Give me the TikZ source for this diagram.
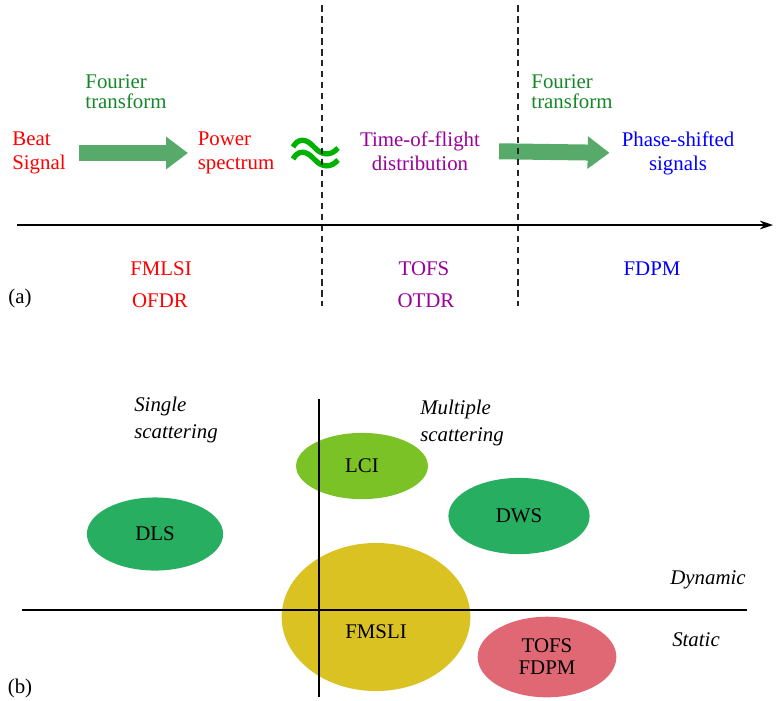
\documentclass[tikz,border=0pt]{standalone}
\usepackage{fontspec}
\setmainfont{Liberation Serif}
\usetikzlibrary{arrows.meta,shapes.geometric}

\definecolor{fourgreen}{RGB}{22,135,40}
\definecolor{fatgreen}{RGB}{88,170,106}
\definecolor{wavegreen}{RGB}{0,178,0}
\definecolor{tofpurple}{RGB}{155,0,155}
\definecolor{lcigreen}{RGB}{122,194,37}
\definecolor{dlsgreen}{RGB}{39,174,96}
\definecolor{fmsliyellow}{RGB}{218,194,35}
\definecolor{tofsred}{RGB}{224,104,116}

\begin{document}
\begin{tikzpicture}[x=0.016cm,y=-0.016cm,
    txt/.style={inner sep=0pt,font=\fontsize{9.5}{10.9}\selectfont},
    four/.style={txt,align=left,text=fourgreen,font=\fontsize{9.5}{9.2}\selectfont},
    regime/.style={txt,align=left,font=\fontsize{9.5}{12.3}\selectfont\itshape},
    fatarrow/.style={draw=fatgreen,line width=0.256cm,-{Triangle[length=0.35cm,width=0.5cm]}},
    wave/.style={draw=wavegreen,line width=2.4pt},
    sep/.style={densely dashed,line width=0.6pt,black!85},
    axis/.style={line width=0.7pt},
    blob/.style={ellipse,inner sep=0pt,font=\fontsize{9.5}{10}\selectfont}]

        \useasboundingbox (0,0) rectangle (777,700);

        % (a) time / frequency domain
        \node[txt,align=left,text=red] (beat) at (39,153) {Beat\\Signal};
        \node[txt,align=left,text=red] (power) at (236,153) {Power\\spectrum};
        \node[txt,align=center,text=tofpurple] (tof) at (420,151) {Time-of-flight\\distribution};
        \node[txt,align=center,text=blue] (phase) at (678,153) {Phase-shifted\\signals};
        \node[four] (four1) at (126,92) {Fourier\\transform};
        \node[four] (four2) at (572,92) {Fourier\\transform};

        \draw[fatarrow,shorten <=0.2cm,shorten >=0.15cm] (beat.east) -- (power.west);
        \draw[fatarrow,shorten <=0.3cm,shorten >=0.19cm] (tof.east) -- (phase.west);

        % approximately equal sign
        \foreach \dy in {0,12}
        {
          \draw[wave] (293,147+\dy) .. controls (298,138+\dy) and (306,138+\dy) .. (314,147+\dy)
                      .. controls (322,156+\dy) and (331,156+\dy) .. (338,148+\dy);
        }

        % separators and axis
        \coordinate (sep1t) at (322,5);
        \coordinate (sep1b) at (322,306);
        \coordinate (sep2t) at (518,5);
        \coordinate (sep2b) at (518,306);
        \draw[sep] (sep1t) -- (sep1b);
        \draw[sep] (sep2t) -- (sep2b);
        \coordinate (axl) at (17,225);
        \coordinate (axr) at (773,225);
        \draw[axis,-{Stealth[length=0.21cm,width=0.14cm]}] (axl) -- (axr);

        \node[txt,text=red] (fmlsi) at (161,269) {FMLSI};
        \node[txt,text=red] (ofdr) at (160,301) {OFDR};
        \node[txt,text=tofpurple] (tofs) at (424,269) {TOFS};
        \node[txt,text=tofpurple] (otdr) at (426,301) {OTDR};
        \node[txt,text=blue] (fdpm) at (652,269) {FDPM};
        \node[txt] (panela) at (20,298) {(a)};

        % (b) techniques
        \node[blob,fill=lcigreen,minimum width=2.11cm,minimum height=1.06cm] (lci) at (362,466) {LCI};
        \node[blob,fill=dlsgreen,minimum width=2.18cm,minimum height=1.17cm] (dls) at (155,534) {DLS};
        \node[blob,fill=dlsgreen,minimum width=2.26cm,minimum height=1.22cm] (dws) at (519,516) {DWS};
        \node[blob,fill=fmsliyellow,minimum width=3.02cm,minimum height=2.37cm,
              label={[font=\fontsize{9.5}{10}\selectfont,yshift=-0.23cm]center:FMSLI}] (fmsli) at (376,617) {};
        \node[blob,fill=tofsred,align=center,minimum width=2.22cm,minimum height=1.29cm] (tofsfdpm) at (547,657) {TOFS\\FDPM};

        \node[regime] (single) at (176,420) {Single\\scattering};
        \node[regime] (multiple) at (462,423) {Multiple\\scattering};
        \node[regime] (dynamic) at (708,580) {Dynamic};
        \node[regime] (static) at (696,640) {Static};

        \coordinate (vtop) at (319,399);
        \coordinate (vbot) at (319,697);
        \coordinate (hleft) at (22,610);
        \coordinate (hright) at (747,610);
        \draw[axis] (vtop) -- (vbot);
        \draw[axis] (hleft) -- (hright);

        \node[txt] (panelb) at (20,688) {(b)};

\end{tikzpicture}
\end{document}
